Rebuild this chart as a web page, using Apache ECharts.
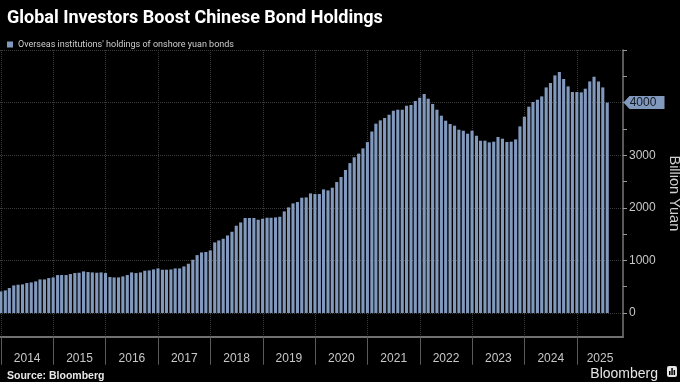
<!DOCTYPE html>
<html><head><meta charset="utf-8">
<script src="https://cdn.jsdelivr.net/npm/echarts@6/dist/echarts.min.js"></script>
<style>html,body{margin:0;padding:0;background:#000}#c{width:680px;height:382px}</style>
</head><body><div id="c"></div>
<script>
// Monthly data, first bar = Dec 2013, last bar = Jul 2025 (billion yuan)
const firstMonth = [2013, 12];
const values = [
  411,
  430, 475, 525, 538, 545, 570, 582, 601, 639, 639, 665, 677,
  722, 722, 722, 741, 760, 766, 791, 779, 772, 766, 772, 760,
  684, 677, 677, 696, 722, 772, 760, 772, 804, 810, 829, 848,
  823, 823, 829, 848, 848, 886, 937, 1013, 1101, 1152, 1160, 1190,
  1342, 1380, 1412, 1475, 1545, 1660, 1722, 1806, 1806, 1806, 1773, 1792,
  1811, 1811, 1818, 1830, 1932, 2008, 2084, 2110, 2192, 2198, 2274, 2262,
  2262, 2350, 2331, 2382, 2490, 2585, 2720, 2850, 2960, 3030, 3130, 3250,
  3450, 3600, 3662, 3707, 3770, 3846, 3865, 3865, 3941, 3954, 4030, 4093,
  4163, 4074, 3973, 3865, 3751, 3656, 3593, 3561, 3485, 3466, 3409, 3466,
  3371, 3276, 3276, 3244, 3257, 3346, 3314, 3251, 3257, 3300, 3548, 3732,
  3922, 4011, 4055, 4118, 4289, 4373, 4517, 4582, 4449, 4308, 4201, 4201,
  4195, 4264, 4403, 4492, 4403, 4289, 4000
];
const yearLabels = ['2014','2015','2016','2017','2018','2019','2020','2021','2022','2023','2024','2025'];
const yLabelValues = [0, 1000, 2000, 3000, 4000];
const yTickValues = [0, 500, 1000, 1500, 2000, 2500, 3000, 3500, 4000, 4500, 5000];
const yGridValues = [0, 1000, 2000, 3000, 4000, 5000];
const seriesName = "Overseas institutions' holdings of onshore yuan bonds";

// axis extent
const X_MIN = new Date(2013, 11, 25).getTime();
const X_MAX = new Date(2025, 10, 18).getTime();
const Y_MIN = -450, Y_MAX = 5000;

// data points at month end
const data = values.map((v, i) => {
  const m0 = firstMonth[1] - 1 + i;
  const d = new Date(firstMonth[0], m0 + 1, 0);
  return [d.getTime(), v];
});
const yearStarts = yearLabels.map(y => new Date(+y, 0, 1).getTime());
const yearMids = yearLabels.map(y => {
  const s = new Date(+y, 0, 1).getTime();
  const e = Math.min(new Date(+y + 1, 0, 1).getTime(), X_MAX);
  return (s + e) / 2;
});
const last = data[data.length - 1];

const barColor = '#8299be';
const chart = echarts.init(document.getElementById('c'));
chart.setOption({
  backgroundColor: '#000',
  animation: false,
  title: [
    { text: 'Global Investors Boost Chinese Bond Holdings', left: 2, top: 4,
      textStyle: { color: '#fff', fontSize: 18, fontWeight: 'bold', fontFamily: 'Roboto' } },
    { text: 'Source: Bloomberg', left: 2, top: 366,
      textStyle: { color: '#e8e8e8', fontSize: 10.5, fontWeight: 'bold', fontFamily: 'Liberation Sans' } },
    { text: 'Bloomberg', right: 17, top: 362,
      textStyle: { color: '#e6e6e6', fontSize: 14, fontWeight: 'normal', fontFamily: 'Liberation Sans' } }
  ],
  graphic: [
    { type: 'group', right: 3, top: 366, children: [
      { type: 'rect', shape: { x: 0, y: 0, width: 10, height: 11, r: 2 }, style: { fill: '#e6e6e6' } },
      { type: 'rect', shape: { x: 2, y: 5, width: 1.5, height: 4 }, style: { fill: '#000' } },
      { type: 'rect', shape: { x: 4.3, y: 2, width: 1.5, height: 7 }, style: { fill: '#000' } },
      { type: 'rect', shape: { x: 6.6, y: 4, width: 1.5, height: 5 }, style: { fill: '#000' } }
    ]}
  ],
  legend: {
    left: 2, top: 35, itemWidth: 6, itemHeight: 6, icon: 'rect',
    textStyle: { color: '#cfcfcf', fontSize: 9, fontFamily: 'Roboto' },
    data: [seriesName]
  },
  grid: { left: 0, right: 57, top: 50, bottom: 45.3, containLabel: false, outerBoundsMode: 'none' },
  xAxis: {
    type: 'value', min: X_MIN, max: X_MAX,
    axisLine: { show: true, onZero: false, lineStyle: { color: '#707070', width: 2 } },
    axisTick: { show: true, customValues: yearStarts, length: 28, lineStyle: { color: '#5a5a5a', width: 1 } },
    axisLabel: { customValues: yearMids, margin: 16, color: '#c8c8c8', fontSize: 12, fontFamily: 'Liberation Sans',
      formatter: v => String(new Date(v + 1000).getFullYear()) },
    splitLine: { show: true, lineStyle: { color: '#3c3c3c', type: 'dotted', width: 1 } }
  },
  yAxis: [
    { type: 'value', position: 'right', min: Y_MIN, max: Y_MAX,
      name: 'Billion Yuan', nameLocation: 'middle', nameRotate: -90, nameGap: 37,
      nameTextStyle: { color: '#cfcfcf', fontSize: 14.5, fontFamily: 'Liberation Sans' },
      axisLine: { show: true, lineStyle: { color: '#777', width: 1.5 } },
      axisTick: { show: true, customValues: yTickValues, length: 4, lineStyle: { color: '#999' } },
      axisLabel: { customValues: yLabelValues, margin: 6, color: '#c8c8c8', fontSize: 12, fontFamily: 'Liberation Sans',
        formatter: v => String(v) },
      splitLine: { show: false }
    },
    { type: 'value', position: 'right', min: Y_MIN, max: Y_MAX,
      axisLine: { show: false }, axisLabel: { show: false },
      axisTick: { show: false, customValues: yGridValues },
      splitLine: { show: true, lineStyle: { color: '#3c3c3c', type: 'dotted', width: 1 } }
    }
  ],
  series: [{
    name: seriesName, type: 'bar', data: data, barWidth: 3.1,
    itemStyle: { color: barColor },
    markPoint: {
      symbol: 'path://M0,6 L6,0 L41,0 L41,12 L6,12 Z', symbolSize: [41, 13], symbolOffset: [21, 0],
      itemStyle: { color: barColor },
      label: { show: true, color: '#141a24', fontSize: 12, fontFamily: 'Liberation Sans', offset: [-1, 0],
        formatter: p => String(Math.round(p.value)) },
      data: [{ coord: [X_MAX, last[1]], value: last[1] }]
    }
  }]
});
</script></body></html>
